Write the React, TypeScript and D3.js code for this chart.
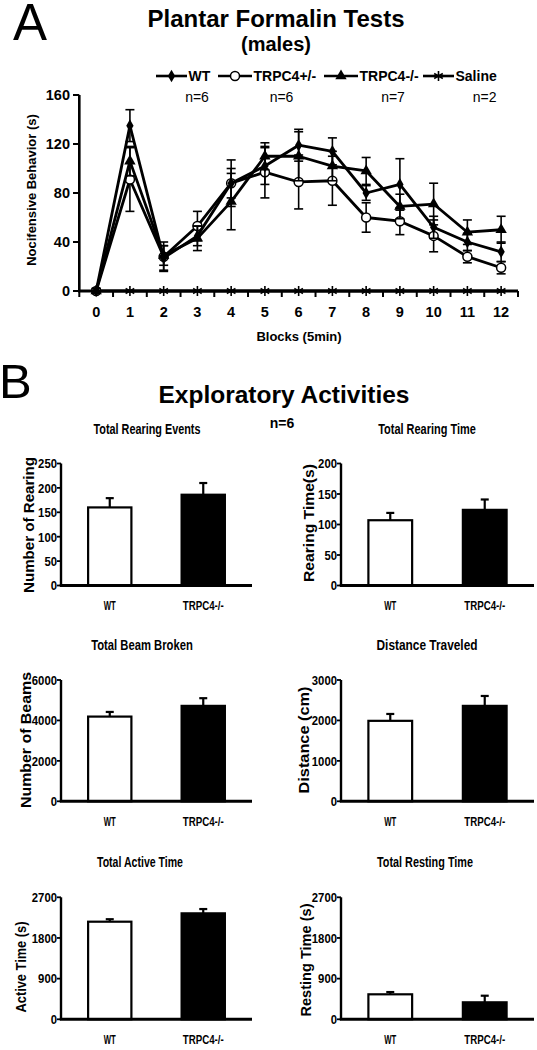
import React from 'react';
import * as d3 from 'd3';

// ---------- Data: Plantar formalin tests ----------
const blocks = [0, 1, 2, 3, 4, 5, 6, 7, 8, 9, 10, 11, 12];
const yTicksLine = [0, 40, 80, 120, 160];
const wtMean = [0, 135, 27, 45, 88, 102, 119, 114, 80, 87, 52, 40, 32];
const wtErr = [2, 13, 10, 8, 19, 15, 13, 11, 6, 21, 9, 7, 8];
const hetMean = [0, 91, 28, 53, 88, 97, 89, 90, 60, 57, 45, 28, 19];
const hetErr = [2, 26, 12, 12, 12, 21, 22, 20, 12, 11, 13, 5, 5];
const koMean = [0, 106, 29, 43, 73, 110, 110, 102, 98, 69, 71, 48, 50];
const koErr = [2, 12, 8, 10, 23, 11, 20, 12, 11, 10, 17, 10, 11];
const salineMean = [0, 0, 0, 0, 0, 0, 0, 0, 0, 0, 0, 0, 0];
const legendNames = ['WT', 'TRPC4+/-', 'TRPC4-/-', 'Saline'];
const legendN = ['n=6', 'n=6', 'n=7', 'n=2'];

// ---------- Data: Exploratory activities ----------
const groups = ['WT', 'TRPC4-/-'];
const panelTitles = ['Total Rearing Events', 'Total Rearing Time', 'Total Beam Broken', 'Distance Traveled', 'Total Active Time', 'Total Resting Time'];
const panelYLabels = ['Number of Rearing', 'Rearing Time(s)', 'Number of Beams', 'Distance (cm)', 'Active Time (s)', 'Resting Time (s)'];
const panelTicks = [
  [0, 50, 100, 150, 200, 250],
  [0, 50, 100, 150, 200],
  [0, 2000, 4000, 6000],
  [0, 1000, 2000, 3000],
  [0, 900, 1800, 2700],
  [0, 900, 1800, 2700],
];
const wtValues = [160, 107, 4190, 1990, 2160, 553];
const wtErrors = [19, 12, 230, 170, 55, 50];
const koValues = [186, 124, 4720, 2360, 2345, 376];
const koErrors = [24, 17, 380, 245, 95, 146];

const FONT = "'Liberation Sans', Arial, Helvetica, sans-serif";

// ---------- Layout ----------
const W = 537;
const H = 1050;

function Asterisk({ x, y, r = 5 }: { x: number; y: number; r?: number }) {
  const angles = [90, 30, 150];
  return (
    <g>
      {angles.map((a) => {
        const rad = (a * Math.PI) / 180;
        const dx = Math.cos(rad) * r;
        const dy = Math.sin(rad) * r;
        return <line key={a} x1={x - dx} y1={y - dy} x2={x + dx} y2={y + dy} stroke="#000" strokeWidth={1.6} />;
      })}
    </g>
  );
}

function Marker({ kind, x, y }: { kind: string; x: number; y: number }) {
  if (kind === 'diamond') {
    return <path d={d3.symbol(d3.symbolDiamond, 46)()!} transform={`translate(${x},${y})`} fill="#000" />;
  }
  if (kind === 'triangle') {
    return <path d={d3.symbol(d3.symbolTriangle, 56)()!} transform={`translate(${x},${y})`} fill="#000" />;
  }
  if (kind === 'circle') {
    return <circle cx={x} cy={y} r={4.5} fill="#fff" stroke="#000" strokeWidth={1.5} />;
  }
  return <Asterisk x={x} y={y} />;
}

function LineChart() {
  const x = d3.scaleBand<number>().domain(blocks).range([79.3, 518]).padding(0);
  const y = d3.scaleLinear().domain([0, 160]).range([291, 95]);
  const cx = (b: number) => (x(b) as number) + x.bandwidth() / 2;
  const line = d3
    .line<number>()
    .x((_, i) => cx(blocks[i]))
    .y((d) => y(d));

  const series = [
    { name: 'Saline', mean: salineMean, err: null as number[] | null, kind: 'asterisk' },
    { name: 'TRPC4+/-', mean: hetMean, err: hetErr, kind: 'circle' },
    { name: 'TRPC4-/-', mean: koMean, err: koErr, kind: 'triangle' },
    { name: 'WT', mean: wtMean, err: wtErr, kind: 'diamond' },
  ];

  const boundaries = [...blocks.map((b) => x(b) as number), x.range()[1]];

  const legendItems = [
    { kind: 'diamond', x1: 156, x2: 187, tx: 188.5 },
    { kind: 'circle', x1: 218, x2: 252, tx: 253.5 },
    { kind: 'triangle', x1: 324, x2: 358, tx: 359.5 },
    { kind: 'asterisk', x1: 423, x2: 454, tx: 455.5 },
  ];
  const nPos = [197, 281.5, 393, 484.6];

  return (
    <g fontFamily={FONT}>
      <text x={13} y={40} fontSize={51} fill="#000">A</text>
      <text x={276} y={27} fontSize={24} fontWeight="bold" textAnchor="middle">Plantar Formalin Tests</text>
      <text x={276} y={50.5} fontSize={20} fontWeight="bold" textAnchor="middle">(males)</text>

      {legendItems.map((it, i) => (
        <g key={i}>
          <line x1={it.x1} x2={it.x2} y1={76} y2={76} stroke="#000" strokeWidth={2.6} />
          <Marker kind={it.kind} x={(it.x1 + it.x2) / 2} y={76} />
          <text x={it.tx} y={81} fontSize={14} fontWeight="bold">{legendNames[i]}</text>
          <text x={nPos[i]} y={101.5} fontSize={14} textAnchor="middle">{legendN[i]}</text>
        </g>
      ))}

      {/* axes */}
      <line x1={79.3} x2={79.3} y1={y(160)} y2={y(0) + 1} stroke="#000" strokeWidth={2.6} />
      <line x1={78} x2={518} y1={y(0)} y2={y(0)} stroke="#000" strokeWidth={2.8} />
      {yTicksLine.map((t) => (
        <g key={t}>
          <line x1={73} x2={79.3} y1={y(t)} y2={y(t)} stroke="#000" strokeWidth={2} />
          <text x={70} y={y(t) + 5} fontSize={14.5} fontWeight="bold" textAnchor="end">{t}</text>
        </g>
      ))}
      {boundaries.map((bx, i) => (
        <line key={i} x1={bx} x2={bx} y1={y(0)} y2={y(0) + 6} stroke="#000" strokeWidth={2} />
      ))}
      {blocks.map((b) => (
        <text key={b} x={cx(b)} y={317} fontSize={14.5} fontWeight="bold" textAnchor="middle">{b}</text>
      ))}
      <text x={299} y={341} fontSize={13} fontWeight="bold" textAnchor="middle">Blocks (5min)</text>
      <text transform="translate(31,190) rotate(-90)" fontSize={13} fontWeight="bold" textAnchor="middle" dominantBaseline="central">Nocifensive Behavior (s)</text>

      {/* series */}
      {series.map((s) => (
        <g key={s.name}>
          {s.err &&
            s.mean.map((m, i) => {
              const e = (s.err as number[])[i];
              const xx = cx(blocks[i]);
              return (
                <g key={i} stroke="#000" strokeWidth={1.6}>
                  <line x1={xx} x2={xx} y1={y(m + e)} y2={y(Math.max(0, m - e))} />
                  <line x1={xx - 4.5} x2={xx + 4.5} y1={y(m + e)} y2={y(m + e)} />
                  <line x1={xx - 4.5} x2={xx + 4.5} y1={y(Math.max(0, m - e))} y2={y(Math.max(0, m - e))} />
                </g>
              );
            })}
          <path d={line(s.mean)!} fill="none" stroke="#000" strokeWidth={2.8} strokeLinejoin="round" />
          {s.mean.map((m, i) => (
            <Marker key={i} kind={s.kind} x={cx(blocks[i])} y={y(m)} />
          ))}
        </g>
      ))}
    </g>
  );
}

function BarPanel({ idx, x0, x1, top, bottom, titleX, titleW, yLabelX, yLabelY, yLabelLen }: {
  idx: number; x0: number; x1: number; top: number; bottom: number;
  titleX: number; titleW: number; yLabelX: number; yLabelY: number; yLabelLen: number;
}) {
  const ticks = panelTicks[idx];
  const max = ticks[ticks.length - 1];
  const y = d3.scaleLinear().domain([0, max]).range([bottom, top]);
  const x = d3.scaleBand<string>().domain(groups).range([x0, x1]).paddingInner(0.537).paddingOuter(0.29);
  const vals = [wtValues[idx], koValues[idx]];
  const errs = [wtErrors[idx], koErrors[idx]];
  const fills = ['#fff', '#000'];
  return (
    <g fontFamily={FONT}>
      <text x={titleX} y={top - 30} fontSize={15.5} fontWeight="bold" textAnchor="middle" textLength={titleW} lengthAdjust="spacingAndGlyphs">{panelTitles[idx]}</text>
      <text transform={`translate(${yLabelX},${yLabelY}) rotate(-90)`} fontSize={15} fontWeight="bold" textAnchor="middle" dominantBaseline="central" textLength={yLabelLen} lengthAdjust="spacingAndGlyphs">{panelYLabels[idx]}</text>
      {groups.map((g, i) => {
        const bx = x(g) as number;
        const bw = x.bandwidth();
        const c = bx + bw / 2;
        return (
          <g key={g}>
            <line x1={c} x2={c} y1={y(vals[i])} y2={y(vals[i] + errs[i])} stroke="#000" strokeWidth={2.2} />
            <line x1={c - 4} x2={c + 4} y1={y(vals[i] + errs[i])} y2={y(vals[i] + errs[i])} stroke="#000" strokeWidth={2.2} />
            <rect x={bx} y={y(vals[i])} width={bw} height={y(0) - y(vals[i])} fill={fills[i]} stroke="#000" strokeWidth={2.2} />
            <text x={c} y={bottom + 24.5} fontSize={13} fontWeight="bold" textAnchor="middle" textLength={g.length === 2 ? 12 : 41} lengthAdjust="spacingAndGlyphs">{g}</text>
          </g>
        );
      })}
      <line x1={x0} x2={x0} y1={top} y2={bottom} stroke="#000" strokeWidth={2.4} />
      <line x1={x0 - 1.2} x2={x1} y1={bottom} y2={bottom} stroke="#000" strokeWidth={3} />
      {ticks.map((t) => (
        <g key={t}>
          <line x1={x0 - 4} x2={x0} y1={y(t)} y2={y(t)} stroke="#000" strokeWidth={1.8} />
          <text x={x0 - 4} y={y(t) + 4.8} fontSize={13.5} fontWeight="bold" textAnchor="end" textLength={String(t).length * 6.3} lengthAdjust="spacingAndGlyphs">{t}</text>
        </g>
      ))}
    </g>
  );
}

export default function App() {
  const rows = [
    { top: 463.5, bottom: 585.5 },
    { top: 680, bottom: 801.3 },
    { top: 897.3, bottom: 1019.3 },
  ];
  const leftCol = { x0: 61, x1: 252 };
  const rightCol = { x0: 341, x1: 534 };
  const titleXs = [147, 427, 142, 427, 140, 425];
  const titleWs = [107, 97.6, 101.7, 101, 86, 96];
  const yLabelXs = [28, 308, 25, 303, 20.5, 305];
  const yLabelYs = [525, 523, 740, 740, 967, 960];
  const yLabelLens = [136, 118, 136, 107, 91, 113];
  return (
    <svg width={W} height={H} viewBox={`0 0 ${W} ${H}`} style={{ position: 'absolute', left: 0, top: 0, background: '#fff' }}>
      <rect width={W} height={H} fill="#fff" />
      <LineChart />
      <g fontFamily={FONT}>
        <text x={-1} y={398} fontSize={49}>B</text>
        <text x={284} y={403} fontSize={24.5} fontWeight="bold" textAnchor="middle">Exploratory Activities</text>
        <text x={282} y={427.5} fontSize={14} fontWeight="bold" textAnchor="middle">n=6</text>
      </g>
      {panelTitles.map((_, i) => {
        const row = rows[Math.floor(i / 2)];
        const col = i % 2 === 0 ? leftCol : rightCol;
        return (
          <BarPanel key={i} idx={i} x0={col.x0} x1={col.x1} top={row.top} bottom={row.bottom}
            titleX={titleXs[i]} titleW={titleWs[i]} yLabelX={yLabelXs[i]} yLabelY={yLabelYs[i]} yLabelLen={yLabelLens[i]} />
        );
      })}
    </svg>
  );
}
